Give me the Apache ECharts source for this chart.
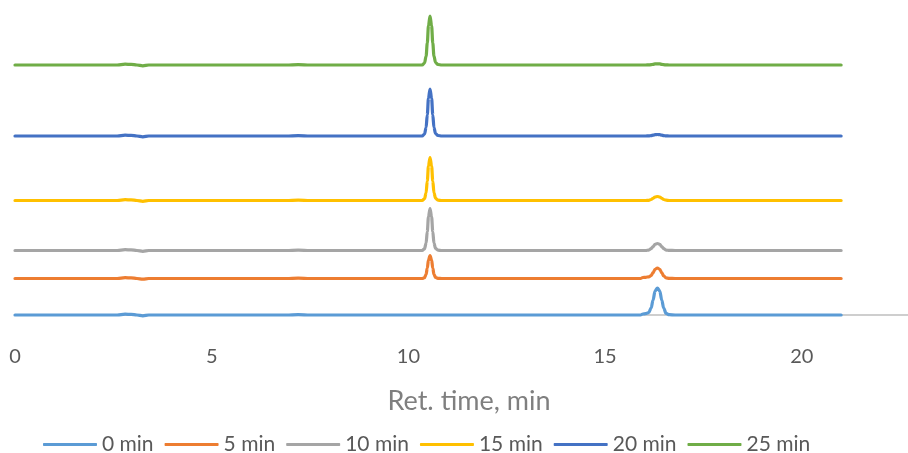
<!DOCTYPE html>
<html>
<head>
<meta charset="utf-8">
<script src="https://cdn.jsdelivr.net/npm/echarts@6/dist/echarts.min.js"></script>
<style>html,body{margin:0;padding:0;background:#fff}#c{width:908px;height:453px}</style>
</head>
<body>
<div id="c"></div>
<script>
// Retention times (min)
var times = [0, 2.6, 2.8, 2.95, 3.1, 3.25, 3.4, 6.9, 7.2, 7.5,
  10.35, 10.41, 10.45, 10.48, 10.51, 10.55, 10.59, 10.62, 10.65, 10.69, 10.75, 10.85,
  15.9, 15.96, 16.03, 16.11, 16.17, 16.22, 16.27, 16.33, 16.39, 16.44, 16.49, 16.55, 16.63, 16.78, 21];

var seriesNames = ["0 min", "5 min", "10 min", "15 min", "20 min", "25 min"];

var s0min = [0, 0, 0.8, 0.6, 0, -0.8, 0, 0, 0.4, 0,
  0, 0, 0, 0, 0, 0, 0, 0, 0, 0, 0, 0,
  0, 1, 1.3, 2.4, 7, 15, 24, 27, 24, 15, 7, 1.6, 0.3, 0, 0];
var s5min = [36.5, 36.5, 37.3, 37.1, 36.5, 35.8, 36.5, 36.5, 36.9, 36.5,
  36.5, 37.4, 40.6, 46.9, 54.9, 59.5, 54.9, 46.9, 40.6, 37.7, 36.7, 36.5,
  36.5, 37.5, 37.7, 38.2, 39.3, 42.3, 45.7, 47, 45.7, 42.3, 39.1, 37.1, 36.6, 36.5, 36.5];
var s10min = [64.5, 64.5, 65.3, 65.1, 64.5, 63.7, 64.5, 64.5, 64.9, 64.5,
  64.5, 66.2, 72, 83.4, 98.1, 106.5, 98.1, 83.4, 72, 66.6, 64.9, 64.5,
  64.5, 64.5, 64.5, 64.9, 66.3, 68.4, 70.7, 71.5, 70.7, 68.4, 66.3, 64.9, 64.6, 64.5, 64.5];
var s15min = [114.5, 114.5, 115.3, 115.1, 114.5, 113.7, 114.5, 114.5, 114.9, 114.5,
  114.5, 116.2, 122.2, 133.9, 148.9, 157.5, 148.9, 133.9, 122.2, 116.7, 114.9, 114.5,
  114.5, 114.5, 114.5, 114.7, 115.5, 116.7, 118, 118.5, 118, 116.7, 115.5, 114.8, 114.5, 114.5, 114.5];
var s20min = [179, 179, 179.8, 179.6, 179, 178.2, 179, 179, 179.4, 179,
  179, 180.9, 187.5, 200.2, 216.6, 226, 216.6, 200.2, 187.5, 181.4, 179.5, 179,
  179, 179, 179, 179.1, 179.4, 179.8, 180.3, 180.5, 180.3, 179.8, 179.4, 179.1, 179, 179, 179];
var s25min = [250, 250, 250.8, 250.6, 250, 249.2, 250, 250, 250.4, 250,
  250, 252, 258.8, 272, 289.2, 299, 289.2, 272, 258.8, 252.5, 250.5, 250,
  250, 250, 250, 250.1, 250.3, 250.7, 251.1, 251.2, 251.1, 250.7, 250.3, 250.1, 250, 250, 250];

var xTicks = [0, 5, 10, 15, 20];
var xTitle = "Ret. time, min";

var allValues = [s0min, s5min, s10min, s15min, s20min, s25min];
var colors = ["#5B9BD5", "#ED7D31", "#A5A5A5", "#FFC000", "#4472C4", "#70AD47"];
var FONT = "Lato";

var chart = echarts.init(document.getElementById('c'), null, {renderer: 'canvas'});
var series = seriesNames.map(function (name, i) {
  return {
    name: name,
    type: 'line',
    data: times.map(function (t, k) { return [t, allValues[i][k]]; }),
    showSymbol: false,
    symbol: 'none',
    smooth: 0.35,
    smoothMonotone: 'x',
    lineStyle: {width: 3.2, color: colors[i], cap: 'round', join: 'round'},
    itemStyle: {color: colors[i]},
    clip: false,
    z: 2 + i
  };
});

chart.setOption({
  animation: false,
  backgroundColor: '#ffffff',
  color: colors,
  grid: {left: 15, right: 0, top: 15, bottom: 128, containLabel: false},
  xAxis: {
    type: 'value',
    min: xTicks[0],
    max: 22.7,
    interval: 5,
    splitLine: {show: false},
    axisTick: {show: false},
    axisLine: {show: true, onZero: true, lineStyle: {color: '#BFBFBF', width: 1.5}},
    axisLabel: {
      color: '#595959', fontFamily: FONT, fontSize: 20, margin: 22,
      showMaxLabel: false,
      formatter: function (v) { return xTicks.indexOf(v) >= 0 ? String(v) : ''; }
    },
    name: xTitle,
    nameLocation: 'middle',
    nameGap: 63,
    nameTextStyle: {color: '#7F7F7F', fontFamily: FONT, fontSize: 27, padding: [0, 0, 0, 15]}
  },
  yAxis: {
    type: 'value',
    min: -10,
    max: 300,
    show: false,
    splitLine: {show: false}
  },
  legend: {
    data: seriesNames,
    left: 38,
    top: 429,
    icon: 'roundRect',
    itemWidth: 54,
    itemHeight: 3,
    itemGap: 11,
    textStyle: {color: '#595959', fontFamily: FONT, fontSize: 21}
  },
  series: series
});
</script>
</body>
</html>
